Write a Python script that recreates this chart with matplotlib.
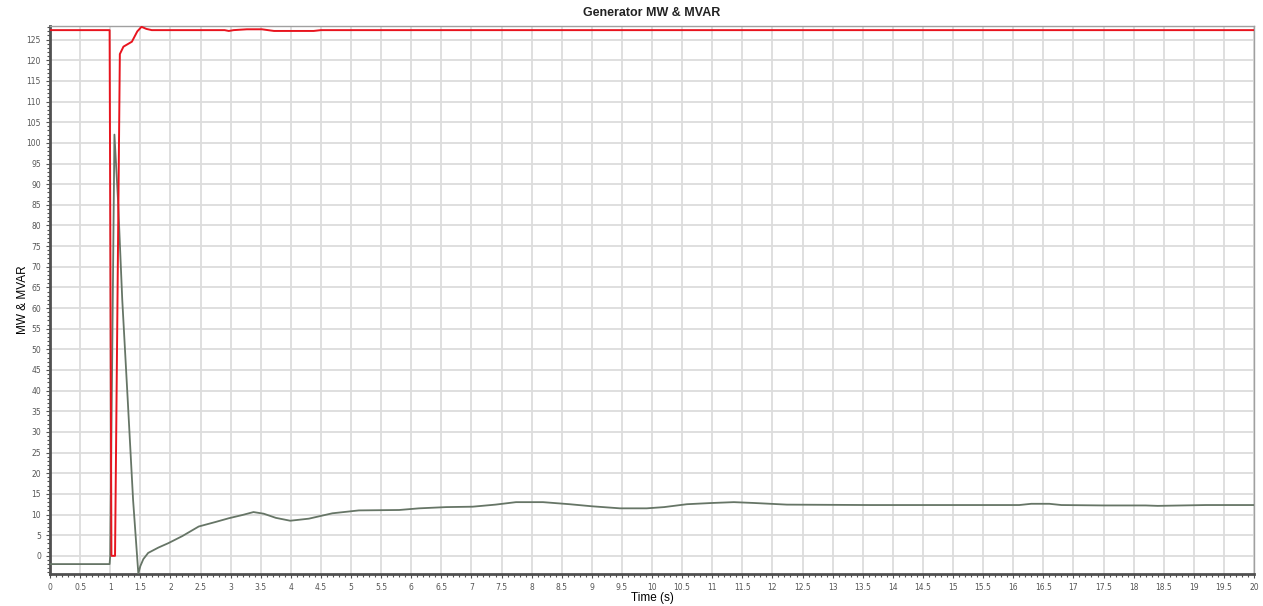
import matplotlib
matplotlib.use("Agg")
import matplotlib.pyplot as plt
from matplotlib.ticker import MultipleLocator
import numpy as np

# Generator MW trace (grey)
mw_time = [0, 0.99, 1.0, 1.07, 1.13, 1.2, 1.29, 1.38, 1.467, 1.5, 1.55, 1.63,
           1.8, 1.97, 2.2, 2.47, 2.75, 2.97, 3.2, 3.38, 3.55, 3.75, 3.99, 4.3,
           4.69, 5.13, 5.8, 6.13, 6.58, 7.02, 7.4, 7.74, 8.19, 8.63, 9.0, 9.47,
           9.91, 10.2, 10.58, 11.0, 11.36, 11.69, 12.24, 13.63, 15.0, 16.1,
           16.3, 16.6, 16.8, 17.5, 18.2, 18.4, 19.2, 20.0]
mw_value = [-2.0, -2.0, 0.0, 102.0, 86.0, 62.0, 38.0, 13.5, -4.3, -2.5, -0.8, 0.7,
            2.0, 3.1, 4.8, 7.1, 8.2, 9.1, 9.9, 10.6, 10.2, 9.2, 8.5, 9.0,
            10.3, 11.0, 11.1, 11.5, 11.8, 11.9, 12.4, 13.0, 13.0, 12.5, 12.0, 11.5,
            11.5, 11.8, 12.5, 12.8, 13.0, 12.8, 12.4, 12.3, 12.3, 12.3,
            12.6, 12.6, 12.3, 12.2, 12.2, 12.1, 12.3, 12.3]

# Generator MVAR trace (red)
mvar_time = [0, 0.99, 1.02, 1.08, 1.16, 1.22, 1.36, 1.45, 1.52, 1.6, 1.69,
             2.9, 2.97, 3.05, 3.27, 3.52, 3.72, 4.38, 4.5, 20.0]
mvar_value = [127.3, 127.3, 0.0, 0.0, 121.5, 123.3, 124.5, 127.0, 128.1, 127.6, 127.3,
              127.3, 127.1, 127.3, 127.5, 127.5, 127.1, 127.1, 127.3, 127.3]

x_ticks = np.arange(0, 20.5, 0.5)
y_ticks = np.arange(0, 130, 5)

fig = plt.figure(figsize=(12.63, 6.06), dpi=100)
ax = fig.add_axes([0.0396, 0.0528, 0.9533, 0.9043])

ax.plot(mw_time, mw_value, color='#667566', lw=1.3, zorder=3)
ax.plot(mvar_time, mvar_value, color='#e8141e', lw=1.4, zorder=4)

ax.set_xlim(0, 20)
ax.set_ylim(-4.4, 128.3)
ax.set_xticks(x_ticks)
ax.set_xticklabels(['%g' % t for t in x_ticks])
ax.set_yticks(y_ticks)
ax.xaxis.set_minor_locator(MultipleLocator(0.1))
ax.yaxis.set_minor_locator(MultipleLocator(1))
ax.grid(True, which='major', color='#dcdcdc', lw=1.3, zorder=0)

ax.tick_params(which='both', direction='out', colors='#505050', labelcolor='#555555',
               labelsize=5.5, width=0.8)
ax.tick_params(which='major', length=3)
ax.tick_params(which='minor', length=2)

for side in ['left', 'bottom']:
    ax.spines[side].set_color('#505050')
    ax.spines[side].set_linewidth(2)
for side in ['top', 'right']:
    ax.spines[side].set_color('#a0a0a0')
    ax.spines[side].set_linewidth(1)

ax.set_title('Generator MW & MVAR', fontsize=9, fontweight='bold',
             family='Liberation Sans', color='#222222', pad=7)
ax.set_xlabel('Time (s)', fontsize=8.5, family='Liberation Sans', labelpad=0)
ax.set_ylabel('MW & MVAR', fontsize=8.5, family='Liberation Sans', labelpad=-2)

fig.savefig('out.png', dpi=100)
